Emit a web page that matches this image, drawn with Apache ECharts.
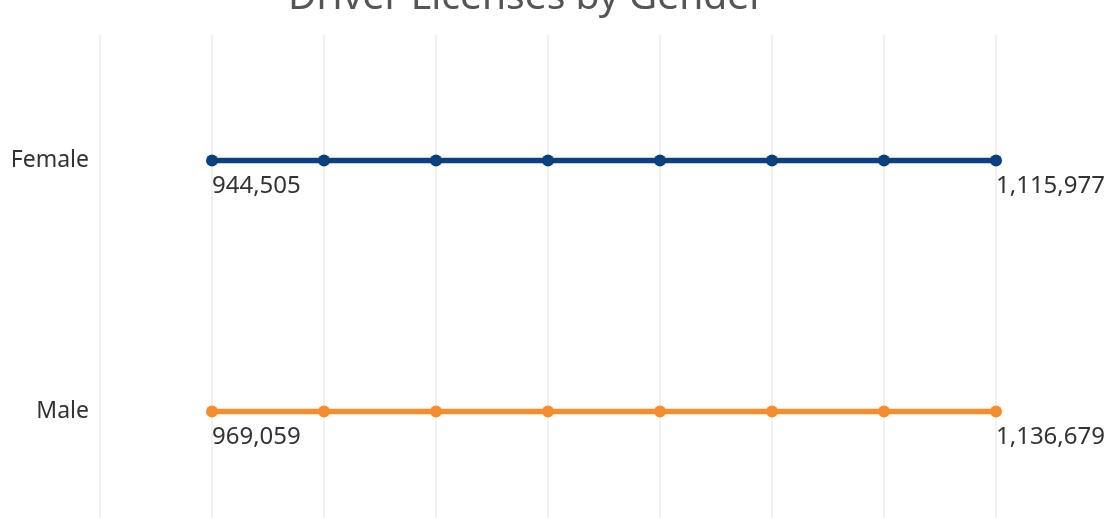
<!DOCTYPE html>
<html>
<head>
<meta charset="utf-8">
<script src="https://cdn.jsdelivr.net/npm/echarts@6/dist/echarts.min.js"></script>
<style>
  html, body { margin: 0; padding: 0; background: #fff; }
  #main { width: 1106px; height: 518px; }
</style>
</head>
<body>
<div id="main"></div>
<script>
var genders = ['Male', 'Female'];
var periods = [1, 2, 3, 4, 5, 6, 7, 8];
var femaleEnds = [944505, 1115977];
var maleEnds = [969059, 1136679];

function fmt(v) {
  return v.toLocaleString('en-US');
}

function makeSeries(name, ends, color) {
  return {
    name: name,
    type: 'line',
    data: periods.map(function (p) { return [p, name]; }),
    symbol: 'circle',
    symbolSize: 12,
    lineStyle: { color: color, width: 5.5 },
    itemStyle: { color: color },
    label: {
      show: true,
      position: 'bottom',
      align: 'left',
      distance: 8,
      color: '#333',
      fontSize: 24,
      fontFamily: 'Noto Sans',
      formatter: function (p) {
        if (p.dataIndex === 0) return fmt(ends[0]);
        if (p.dataIndex === periods.length - 1) return fmt(ends[1]);
        return '';
      }
    }
  };
}

var chart = echarts.init(document.getElementById('main'));
chart.setOption({
  animation: false,
  title: {
    text: 'Driver Licenses by Gender',
    left: 283,
    top: -27,
    textStyle: { fontSize: 39, fontWeight: 'normal', color: '#555', fontFamily: 'Noto Sans' }
  },
  grid: { left: 100, right: 110, top: 35, height: 502, outerBoundsMode: 'none', containLabel: false },
  xAxis: {
    type: 'value',
    min: 0,
    max: 8,
    interval: 1,
    axisLine: { show: false },
    axisTick: { show: false },
    axisLabel: { show: false },
    splitLine: { show: true, lineStyle: { color: '#ececec', width: 1.5 } }
  },
  yAxis: {
    type: 'category',
    data: genders,
    axisLine: { show: false },
    axisTick: { show: false },
    splitLine: { show: false },
    axisLabel: { color: '#333', fontSize: 23, margin: 11, fontFamily: 'Noto Sans' }
  },
  series: [
    makeSeries('Female', femaleEnds, '#0b3f7e'),
    makeSeries('Male', maleEnds, '#f28e2b')
  ]
});
</script>
</body>
</html>
